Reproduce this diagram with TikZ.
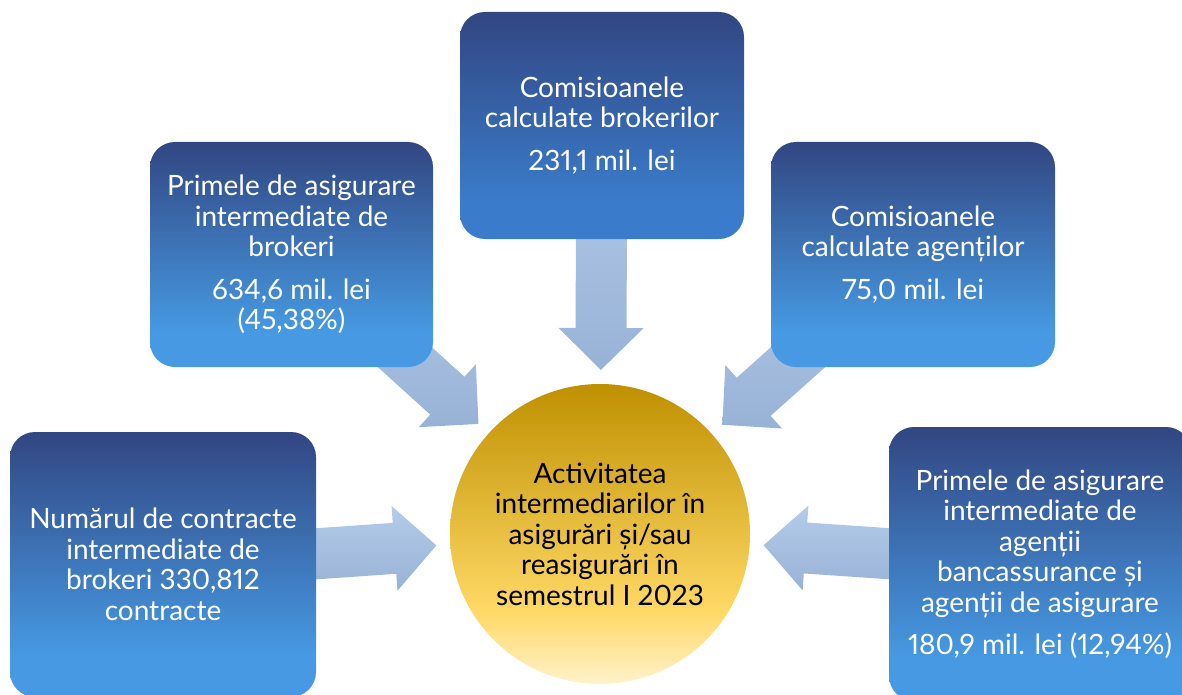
\documentclass[tikz,border=0pt]{standalone}
\usepackage{fontspec}
\setmainfont{Lato}[Numbers=Proportional]
\usetikzlibrary{calc}
\definecolor{boxtop}{RGB}{50,70,130}
\definecolor{boxbot}{RGB}{70,153,226}
\definecolor{tboxbot}{RGB}{58,124,203}
\definecolor{arrtop}{RGB}{181,204,234}
\definecolor{arrbot}{RGB}{152,178,214}
\definecolor{ctop}{RGB}{191,144,0}
\definecolor{cmid}{RGB}{255,217,102}
\definecolor{cbot}{RGB}{255,242,204}
\pgfdeclareverticalshading{boxsh}{100bp}{color(0bp)=(boxbot); color(25bp)=(boxbot); color(33bp)=(boxbot); color(75bp)=(boxtop); color(100bp)=(boxtop)}
\pgfdeclareverticalshading{tboxsh}{100bp}{color(0bp)=(tboxbot); color(25bp)=(tboxbot); color(33bp)=(tboxbot); color(75bp)=(boxtop); color(100bp)=(boxtop)}
\pgfdeclareverticalshading{circsh}{100bp}{color(0bp)=(cbot); color(25bp)=(cbot); color(37bp)=(cmid); color(75bp)=(ctop); color(100bp)=(ctop)}
\pgfdeclarelayer{bg}
\pgfsetlayers{bg,main}
\tikzset{
  infobox/.style={shading=boxsh, rounded corners=25pt, inner sep=0pt, align=center,
    text=white, font=\fontsize{28}{30.5}\selectfont},
  hub/.style={circle, shading=circsh, minimum size=300pt, inner sep=0pt, align=center,
    text=black, font=\fontsize{28}{30.5}\selectfont},
  blockarrow/.style={top color=arrtop, bottom color=arrbot, draw=none}
}
\newcommand\blockarr[2]{%
  \coordinate (s) at (#1.center);
  \coordinate (t) at ($(#2.center)!164pt!(#1.center)$);
  \coordinate (b) at ($(t)!42pt!(s)$);
  \path[blockarrow] ($(s)!25.5pt!90:(t)$) -- ($(b)!25.5pt!90:(t)$) -- ($(b)!42.5pt!90:(t)$)
    -- (t) -- ($(b)!42.5pt!-90:(t)$) -- ($(b)!25.5pt!-90:(t)$) -- ($(s)!25.5pt!-90:(t)$) -- cycle;
}
\begin{document}
\begin{tikzpicture}[x=1pt,y=-1pt]
\useasboundingbox (0,0) rectangle (1182,695);
\clip (0,0) rectangle (1182,695);
\node[infobox, shading=tboxsh, minimum width=284pt, minimum height=227pt] (tb) at (602,125.5)
  {Comisioanele\\calculate brokerilor\\[12pt]231,1 mil. lei};
\node[infobox, minimum width=283pt, minimum height=225pt] (lu) at (291.5,254.5)
  {Primele de asigurare\\intermediate de\\brokeri\\[12pt]634,6 mil. lei\\(45,38\%)};
\node[infobox, minimum width=284pt, minimum height=225pt] (ru) at (913,254.5)
  {Comisioanele\\calculate agenților\\[12pt]75,0 mil. lei};
\node[infobox, minimum width=306pt, minimum height=265pt] (ll) at (163,564.5)
  {Numărul de contracte\\intermediate de\\brokeri 330,812\\contracte};
\node[infobox, minimum width=302pt, minimum height=274pt] (rl) at (1040,564)
  {Primele de asigurare\\intermediate de\\agenții\\bancassurance și\\agenții de asigurare\\[12pt]180,9 mil. lei (12,94\%)};
\node[hub] (hub) at (600,534)
  {Activitatea\\intermediarilor în\\asigurări și/sau\\reasigurări în\\semestrul I 2023};
\begin{pgfonlayer}{bg}
  \blockarr{tb}{hub}
  \blockarr{lu}{hub}
  \blockarr{ru}{hub}
  \blockarr{ll}{hub}
  \blockarr{rl}{hub}
\end{pgfonlayer}
\end{tikzpicture}
\end{document}
